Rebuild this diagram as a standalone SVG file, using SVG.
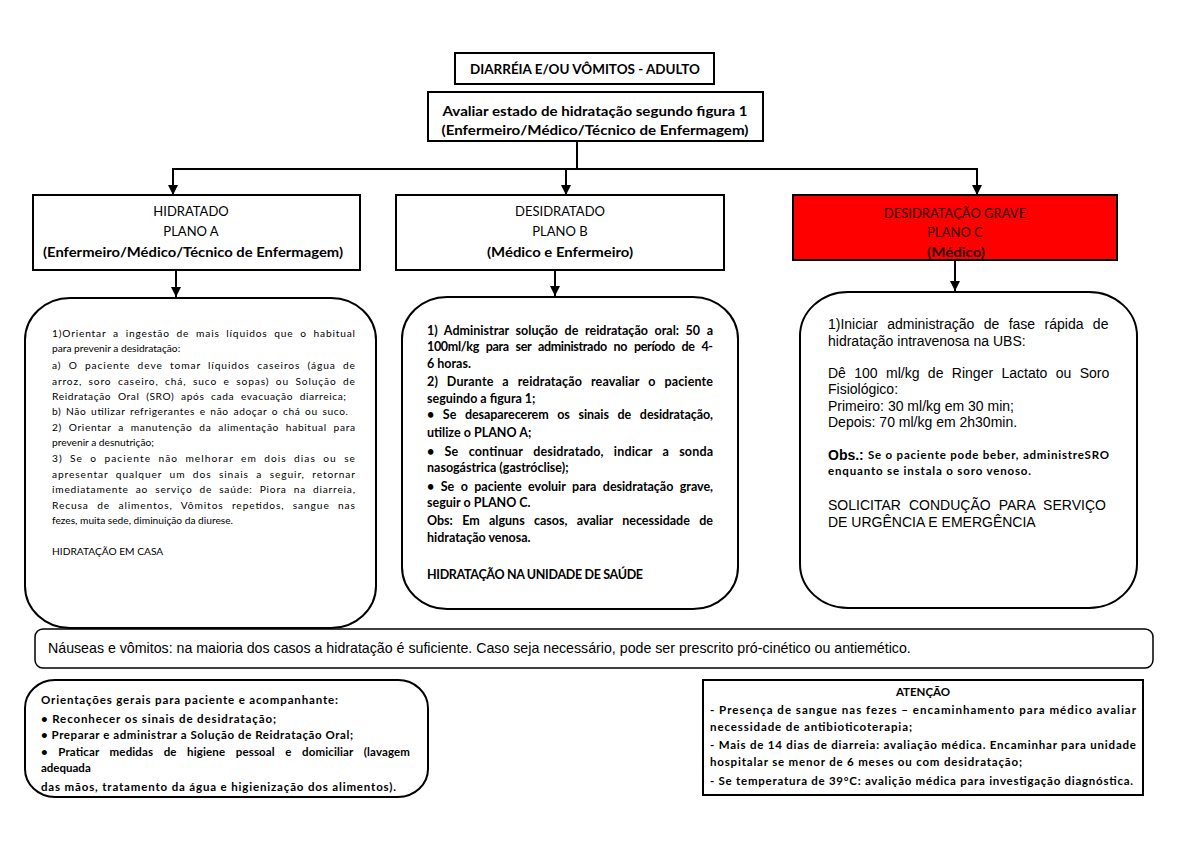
<svg xmlns="http://www.w3.org/2000/svg" width="1200" height="849" viewBox="0 0 1200 849">
<style>
.box{fill:#fff;stroke:#000;stroke-width:2}
.red{fill:#ff0000;stroke:#000;stroke-width:2}
.ln{stroke:#000;stroke-width:2;fill:none}
.c{font-family:Lato,"Liberation Sans",sans-serif;fill:#000}
.b{font-weight:bold}
.a{font-family:"Liberation Sans",Arial,sans-serif;fill:#000}
.h{font-size:13px}
.m{text-anchor:middle}
.s1{font-size:10.2px}
.s2{font-size:11.5px}
.sb{font-size:12.5px}
.s3{font-size:14px}
.dk{fill:#2a0000}
</style>
<defs>
<marker id="ah" markerUnits="userSpaceOnUse" markerWidth="10" markerHeight="11" refX="10" refY="5" orient="auto" viewBox="0 0 10 10">
<path d="M0,0 L10,5 L0,10 Z" fill="#000"/>
</marker>
</defs>

<g id="connectors">
<line class="ln" x1="577" y1="141" x2="577" y2="169"/>
<line class="ln" x1="172" y1="169" x2="978" y2="169"/>
<line class="ln" x1="173" y1="169" x2="173" y2="195" marker-end="url(#ah)"/>
<line class="ln" x1="566" y1="169" x2="566" y2="195" marker-end="url(#ah)"/>
<line class="ln" x1="977" y1="169" x2="977" y2="195" marker-end="url(#ah)"/>
<line class="ln" x1="176" y1="270" x2="176" y2="297" marker-end="url(#ah)"/>
<line class="ln" x1="555" y1="270" x2="555" y2="296" marker-end="url(#ah)"/>
<line class="ln" x1="955" y1="260" x2="955" y2="291" marker-end="url(#ah)"/>
</g>

<g id="title">
<rect class="box" x="455" y="53" width="259" height="31"/>
<text class="c b h m" x="585" y="74" textLength="230" lengthAdjust="spacingAndGlyphs">DIARRÉIA E/OU VÔMITOS - ADULTO</text>
</g>

<g id="avaliar">
<rect class="box" x="428" y="92" width="335" height="49"/>
<text class="c b h m" x="595" y="116" textLength="305" lengthAdjust="spacingAndGlyphs">Avaliar estado de hidratação segundo figura 1</text>
<text class="c b h m" x="595" y="135" textLength="307" lengthAdjust="spacingAndGlyphs">(Enfermeiro/Médico/Técnico de Enfermagem)</text>
</g>

<g id="planoA">
<rect class="box" x="33" y="195" width="327" height="75"/>
<text class="c h m" x="191" y="216">HIDRATADO</text>
<text class="c h m" x="191" y="236">PLANO A</text>
<text class="c b h m" x="193" y="257" textLength="300" lengthAdjust="spacingAndGlyphs">(Enfermeiro/Médico/Técnico de Enfermagem)</text>
</g>

<g id="planoB">
<rect class="box" x="396" y="195" width="328" height="75"/>
<text class="c h m" x="560" y="216">DESIDRATADO</text>
<text class="c h m" x="560" y="236">PLANO B</text>
<text class="c b h m" x="560" y="257" textLength="146" lengthAdjust="spacingAndGlyphs">(Médico e Enfermeiro)</text>
</g>

<g id="planoC">
<rect class="red" x="793" y="195" width="324" height="65"/>
<text class="c h m dk" x="955" y="218">DESIDRATAÇÃO GRAVE</text>
<text class="c h m dk" x="955" y="237">PLANO C</text>
<text class="c b h m dk" x="956" y="257" textLength="58" lengthAdjust="spacingAndGlyphs">(Médico)</text>
</g>

<g id="casaA">
<rect class="box" x="25" y="298" width="351" height="330" rx="45" ry="42"/>
<g class="c s1">
<text x="52" y="337" word-spacing="3.3" textLength="303" lengthAdjust="spacing">1)Orientar a ingestão de mais líquidos que o habitual</text>
<text x="52" y="352">para prevenir a desidratação:</text>
<text x="52" y="369" word-spacing="3.7" textLength="303" lengthAdjust="spacing">a) O paciente deve tomar líquidos caseiros (água de</text>
<text x="52" y="385" word-spacing="3" textLength="303" lengthAdjust="spacing">arroz, soro caseiro, chá, suco e sopas) ou Solução de</text>
<text x="52" y="400" word-spacing="3.5" textLength="294" lengthAdjust="spacing">Reidratação Oral (SRO) após cada evacuação diarreica;</text>
<text x="52" y="415" word-spacing="1.5" textLength="296" lengthAdjust="spacing">b) Não utilizar refrigerantes e não adoçar o chá ou suco.</text>
<text x="52" y="431" word-spacing="3.6" textLength="303" lengthAdjust="spacing">2) Orientar a manutenção da alimentação habitual para</text>
<text x="52" y="446">prevenir a desnutrição;</text>
<text x="52" y="462" word-spacing="3.6" textLength="303" lengthAdjust="spacing">3) Se o paciente não melhorar em dois dias ou se</text>
<text x="52" y="478" word-spacing="3.9" textLength="303" lengthAdjust="spacing">apresentar qualquer um dos sinais a seguir, retornar</text>
<text x="52" y="493" word-spacing="3.6" textLength="303" lengthAdjust="spacing">imediatamente ao serviço de saúde:  Piora na diarreia,</text>
<text x="52" y="509" word-spacing="4.9" textLength="303" lengthAdjust="spacing">Recusa de alimentos, Vômitos repetidos, sangue nas</text>
<text x="52" y="524">fezes, muita sede, diminuição da diurese.</text>
<text x="52" y="555">HIDRATAÇÃO EM CASA</text>
</g>
</g>

<g id="unidadeB">
<rect class="box" x="402" y="297" width="336" height="312" rx="45" ry="42"/>
<g class="c b sb">
<text x="427" y="335" word-spacing="3.5" textLength="286" lengthAdjust="spacing">1) Administrar solução de reidratação oral: 50 a</text>
<text x="427" y="351" word-spacing="4" textLength="286" lengthAdjust="spacing">100ml/kg para ser administrado no período de 4-</text>
<text x="427" y="368">6 horas.</text>
<text x="427" y="386" word-spacing="5.7" textLength="286" lengthAdjust="spacing">2) Durante a reidratação reavaliar o paciente</text>
<text x="427" y="403">seguindo a figura 1;</text>
<text x="427" y="419" word-spacing="5.7" textLength="286" lengthAdjust="spacing">• Se desaparecerem os sinais de desidratação,</text>
<text x="427" y="437">utilize o PLANO A;</text>
<text x="427" y="456" word-spacing="7" textLength="286" lengthAdjust="spacing">• Se continuar desidratado, indicar a sonda</text>
<text x="427" y="472">nasogástrica (gastróclise);</text>
<text x="427" y="491" word-spacing="3.5" textLength="286" lengthAdjust="spacing">• Se o paciente evoluir para desidratação grave,</text>
<text x="427" y="507">seguir o PLANO C.</text>
<text x="427" y="525" word-spacing="6.3" textLength="286" lengthAdjust="spacing">Obs: Em alguns casos, avaliar necessidade de</text>
<text x="427" y="542">hidratação venosa.</text>
<text x="427" y="579" textLength="216" lengthAdjust="spacing">HIDRATAÇÃO NA UNIDADE DE SAÚDE</text>
</g>
</g>

<g id="urgenciaC">
<rect class="box" x="800" y="292" width="337" height="316" rx="48" ry="44"/>
<g class="a s3">
<text x="828" y="329" word-spacing="5.5">1)Iniciar administração de fase rápida de</text>
<text x="828" y="346">hidratação intravenosa na UBS:</text>
<text x="828" y="378" word-spacing="4.5">Dê 100 ml/kg de Ringer Lactato ou Soro</text>
<text x="828" y="394">Fisiológico:</text>
<text x="828" y="411">Primeiro: 30 ml/kg em 30 min;</text>
<text x="828" y="427">Depois: 70 ml/kg em 2h30min.</text>
<text x="828" y="460" class="b">Obs.:</text>
<text x="828" y="510" word-spacing="4.2">SOLICITAR CONDUÇÃO PARA SERVIÇO</text>
<text x="828" y="527">DE URGÊNCIA E EMERGÊNCIA</text>
</g>
<g class="c b s2">
<text x="868" y="459" textLength="241" lengthAdjust="spacing">Se o paciente pode beber, administreSRO</text>
<text x="828" y="475" textLength="203" lengthAdjust="spacing">enquanto se instala o soro venoso.</text>
</g>
</g>

<g id="nauseas">
<rect x="35" y="629" width="1118" height="39" rx="8" ry="8" fill="#fff" stroke="#000" stroke-width="1.5"/>
<text class="a" font-size="14.2" x="48" y="653">Náuseas e vômitos: na maioria dos casos a hidratação é suficiente. Caso seja necessário, pode ser prescrito pró-cinético ou antiemético.</text>
</g>

<g id="orientacoes">
<rect class="box" x="25" y="680" width="403" height="117" rx="30" ry="28"/>
<g class="c b s2">
<text x="41" y="704" textLength="297" lengthAdjust="spacing">Orientações gerais para paciente e acompanhante:</text>
<text x="41" y="723" textLength="235" lengthAdjust="spacing">• Reconhecer os sinais de desidratação;</text>
<text x="41" y="739" textLength="312" lengthAdjust="spacing">• Preparar e administrar a Solução de Reidratação Oral;</text>
<text x="41" y="756" word-spacing="7.5" textLength="369" lengthAdjust="spacing">• Praticar medidas de higiene pessoal e domiciliar (lavagem</text>
<text x="41" y="772">adequada</text>
<text x="41" y="791" textLength="355" lengthAdjust="spacing">das mãos, tratamento da água e higienização dos alimentos).</text>
</g>
</g>

<g id="atencao">
<rect class="box" x="703" y="680" width="440" height="115"/>
<g class="c b s2">
<text class="m" x="923" y="696">ATENÇÃO</text>
<text x="710" y="714" textLength="426" lengthAdjust="spacing">- Presença de sangue nas fezes – encaminhamento para médico avaliar</text>
<text x="710" y="731" textLength="202" lengthAdjust="spacing">necessidade de antibioticoterapia;</text>
<text x="710" y="749" textLength="426" lengthAdjust="spacing">- Mais de 14 dias de diarreia: avaliação médica. Encaminhar para unidade</text>
<text x="710" y="766" textLength="312" lengthAdjust="spacing">hospitalar se menor de 6 meses ou com desidratação;</text>
<text x="710" y="785" textLength="423" lengthAdjust="spacing">- Se temperatura de 39°C: avalição médica para investigação diagnóstica.</text>
</g>
</g>
</svg>
